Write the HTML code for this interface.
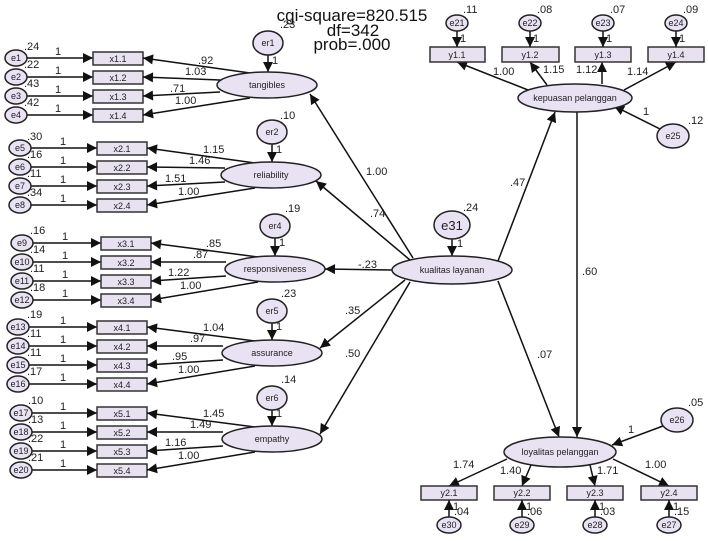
<!DOCTYPE html>
<html><head><meta charset="utf-8"><style>
html,body{margin:0;padding:0;background:#fff;}
svg{display:block;}
text{font-family:"Liberation Sans",sans-serif;fill:#222;}
.s{font-size:11px;}
.n{font-size:9px;}
.t{font-size:17px;fill:#111;}
.el{fill:#e8e2f2;stroke:#222;stroke-width:1.5;}
.bx{fill:#e8e2f0;stroke:#333;stroke-width:1.5;}
.ln{stroke:#111;stroke-width:1.5;fill:none;marker-end:url(#a);}
</style></head><body>
<svg width="708" height="541" viewBox="0 0 708 541" xmlns="http://www.w3.org/2000/svg">
<defs><marker id="a" viewBox="0 0 10 10" refX="10" refY="5" markerWidth="7" markerHeight="7" orient="auto" markerUnits="userSpaceOnUse"><path d="M0,0 L10,5 L0,10 z" fill="#111"/></marker>
<marker id="b" viewBox="0 0 10 10" refX="10" refY="5" markerWidth="12" markerHeight="10" orient="auto" markerUnits="userSpaceOnUse"><path d="M0,0 L10,5 L0,10 z" fill="#111"/></marker></defs>
<style>.ln{marker-end:url(#b);}</style>

<text class="t" x="352" y="21" text-anchor="middle">cgi-square=820.515</text>
<text class="t" x="353" y="36" text-anchor="middle">df=342</text>
<text class="t" x="352" y="50" text-anchor="middle">prob=.000</text>

<!-- Group 1 -->
<g>
<line class="ln" x1="27" y1="58" x2="93" y2="58"/><line class="ln" x1="27" y1="77" x2="93" y2="77"/><line class="ln" x1="27" y1="96" x2="93" y2="96"/><line class="ln" x1="27" y1="115" x2="93" y2="115"/>
<ellipse class="el" cx="16" cy="58" rx="11" ry="8"/><ellipse class="el" cx="16" cy="77" rx="11" ry="8"/><ellipse class="el" cx="16" cy="96" rx="11" ry="8"/><ellipse class="el" cx="16" cy="115" rx="11" ry="8"/>
<text class="n" x="16" y="61" text-anchor="middle">e1</text><text class="n" x="16" y="80" text-anchor="middle">e2</text><text class="n" x="16" y="99" text-anchor="middle">e3</text><text class="n" x="16" y="118" text-anchor="middle">e4</text>
<text class="s" x="24" y="50">.24</text><text class="s" x="24" y="68">.22</text><text class="s" x="24" y="87">.43</text><text class="s" x="24" y="106">.42</text>
<text class="s" x="55" y="55">1</text><text class="s" x="55" y="74">1</text><text class="s" x="55" y="93">1</text><text class="s" x="55" y="112">1</text>
<rect class="bx" x="93" y="52" width="50" height="13"/><rect class="bx" x="93" y="71" width="50" height="13"/><rect class="bx" x="93" y="90" width="50" height="13"/><rect class="bx" x="93" y="109" width="50" height="13"/>
<text class="n" x="118" y="62" text-anchor="middle">x1.1</text><text class="n" x="118" y="81" text-anchor="middle">x1.2</text><text class="n" x="118" y="100" text-anchor="middle">x1.3</text><text class="n" x="118" y="119" text-anchor="middle">x1.4</text>
<line class="ln" x1="250" y1="73" x2="143" y2="58"/><line class="ln" x1="220" y1="80" x2="143" y2="77"/><line class="ln" x1="220" y1="92" x2="143" y2="96"/><line class="ln" x1="250" y1="98" x2="143" y2="115"/>
<text class="s" x="198" y="64">.92</text><text class="s" x="185" y="75">1.03</text><text class="s" x="170" y="92">.71</text><text class="s" x="175" y="104">1.00</text>
<line class="ln" x1="268" y1="55" x2="268" y2="72"/>
<ellipse class="el" cx="268" cy="43" rx="15" ry="12"/><text class="n" x="268" y="46" text-anchor="middle">er1</text>
<text class="s" x="272" y="64">1</text><text class="s" x="280" y="28">.23</text>
<ellipse class="el" cx="267" cy="85" rx="50" ry="13"/><text class="n" x="267" y="88" text-anchor="middle">tangibles</text>
</g>

<!-- Group 2 -->
<g>
<line class="ln" x1="31" y1="148" x2="97" y2="148"/><line class="ln" x1="31" y1="167" x2="97" y2="167"/><line class="ln" x1="31" y1="186" x2="97" y2="186"/><line class="ln" x1="31" y1="205" x2="97" y2="205"/>
<ellipse class="el" cx="20" cy="148" rx="11" ry="8"/><ellipse class="el" cx="20" cy="167" rx="11" ry="8"/><ellipse class="el" cx="20" cy="186" rx="11" ry="8"/><ellipse class="el" cx="20" cy="205" rx="11" ry="8"/>
<text class="n" x="20" y="151" text-anchor="middle">e5</text><text class="n" x="20" y="170" text-anchor="middle">e6</text><text class="n" x="20" y="189" text-anchor="middle">e7</text><text class="n" x="20" y="208" text-anchor="middle">e8</text>
<text class="s" x="27" y="140">.30</text><text class="s" x="27" y="158">.16</text><text class="s" x="27" y="177">.11</text><text class="s" x="27" y="196">.34</text>
<text class="s" x="60" y="145">1</text><text class="s" x="60" y="164">1</text><text class="s" x="60" y="183">1</text><text class="s" x="60" y="202">1</text>
<rect class="bx" x="97" y="142" width="50" height="13"/><rect class="bx" x="97" y="161" width="50" height="13"/><rect class="bx" x="97" y="180" width="50" height="13"/><rect class="bx" x="97" y="199" width="50" height="13"/>
<text class="n" x="122" y="152" text-anchor="middle">x2.1</text><text class="n" x="122" y="171" text-anchor="middle">x2.2</text><text class="n" x="122" y="190" text-anchor="middle">x2.3</text><text class="n" x="122" y="209" text-anchor="middle">x2.4</text>
<line class="ln" x1="255" y1="163" x2="147" y2="148"/><line class="ln" x1="225" y1="168" x2="147" y2="167"/><line class="ln" x1="225" y1="182" x2="147" y2="186"/><line class="ln" x1="255" y1="188" x2="147" y2="205"/>
<text class="s" x="203" y="153">1.15</text><text class="s" x="189" y="164">1.46</text><text class="s" x="165" y="182">1.51</text><text class="s" x="178" y="195">1.00</text>
<line class="ln" x1="272" y1="144" x2="272" y2="162"/>
<ellipse class="el" cx="272" cy="132" rx="15" ry="12"/><text class="n" x="272" y="135" text-anchor="middle">er2</text>
<text class="s" x="276" y="153">1</text><text class="s" x="280" y="119">.10</text>
<ellipse class="el" cx="271" cy="175" rx="50" ry="13"/><text class="n" x="271" y="178" text-anchor="middle">reliability</text>
</g>

<!-- Group 3 -->
<g>
<line class="ln" x1="33" y1="243" x2="101" y2="243"/><line class="ln" x1="33" y1="262" x2="101" y2="262"/><line class="ln" x1="33" y1="281" x2="101" y2="281"/><line class="ln" x1="33" y1="300" x2="101" y2="300"/>
<ellipse class="el" cx="22" cy="243" rx="11" ry="8"/><ellipse class="el" cx="22" cy="262" rx="11" ry="8"/><ellipse class="el" cx="22" cy="281" rx="11" ry="8"/><ellipse class="el" cx="22" cy="300" rx="11" ry="8"/>
<text class="n" x="22" y="246" text-anchor="middle">e9</text><text class="n" x="22" y="265" text-anchor="middle">e10</text><text class="n" x="22" y="284" text-anchor="middle">e11</text><text class="n" x="22" y="303" text-anchor="middle">e12</text>
<text class="s" x="30" y="234">.16</text><text class="s" x="30" y="253">.14</text><text class="s" x="30" y="272">.11</text><text class="s" x="30" y="291">.18</text>
<text class="s" x="62" y="240">1</text><text class="s" x="62" y="259">1</text><text class="s" x="62" y="278">1</text><text class="s" x="62" y="297">1</text>
<rect class="bx" x="101" y="237" width="50" height="13"/><rect class="bx" x="101" y="256" width="50" height="13"/><rect class="bx" x="101" y="275" width="50" height="13"/><rect class="bx" x="101" y="294" width="50" height="13"/>
<text class="n" x="126" y="247" text-anchor="middle">x3.1</text><text class="n" x="126" y="266" text-anchor="middle">x3.2</text><text class="n" x="126" y="285" text-anchor="middle">x3.3</text><text class="n" x="126" y="304" text-anchor="middle">x3.4</text>
<line class="ln" x1="258" y1="257" x2="151" y2="243"/><line class="ln" x1="226" y1="262" x2="151" y2="262"/><line class="ln" x1="226" y1="276" x2="151" y2="281"/><line class="ln" x1="258" y1="282" x2="151" y2="300"/>
<text class="s" x="206" y="247">.85</text><text class="s" x="193" y="258">.87</text><text class="s" x="168" y="276">1.22</text><text class="s" x="180" y="289">1.00</text>
<line class="ln" x1="275" y1="238" x2="275" y2="256"/>
<ellipse class="el" cx="275" cy="226" rx="15" ry="12"/><text class="n" x="275" y="229" text-anchor="middle">er4</text>
<text class="s" x="279" y="246">1</text><text class="s" x="285" y="212">.19</text>
<ellipse class="el" cx="275" cy="269" rx="50" ry="13"/><text class="n" x="275" y="272" text-anchor="middle">responsiveness</text>
</g>

<!-- Group 4 -->
<g>
<line class="ln" x1="28" y1="327" x2="97" y2="327"/><line class="ln" x1="28" y1="346" x2="97" y2="346"/><line class="ln" x1="28" y1="365" x2="97" y2="365"/><line class="ln" x1="28" y1="384" x2="97" y2="384"/>
<ellipse class="el" cx="18" cy="327" rx="11" ry="8"/><ellipse class="el" cx="18" cy="346" rx="11" ry="8"/><ellipse class="el" cx="18" cy="365" rx="11" ry="8"/><ellipse class="el" cx="18" cy="384" rx="11" ry="8"/>
<text class="n" x="18" y="330" text-anchor="middle">e13</text><text class="n" x="18" y="349" text-anchor="middle">e14</text><text class="n" x="18" y="368" text-anchor="middle">e15</text><text class="n" x="18" y="387" text-anchor="middle">e16</text>
<text class="s" x="27" y="318">.19</text><text class="s" x="27" y="337">.11</text><text class="s" x="27" y="356">.11</text><text class="s" x="27" y="375">.17</text>
<text class="s" x="60" y="324">1</text><text class="s" x="60" y="343">1</text><text class="s" x="60" y="362">1</text><text class="s" x="60" y="381">1</text>
<rect class="bx" x="97" y="321" width="50" height="13"/><rect class="bx" x="97" y="340" width="50" height="13"/><rect class="bx" x="97" y="359" width="50" height="13"/><rect class="bx" x="97" y="378" width="50" height="13"/>
<text class="n" x="122" y="331" text-anchor="middle">x4.1</text><text class="n" x="122" y="350" text-anchor="middle">x4.2</text><text class="n" x="122" y="369" text-anchor="middle">x4.3</text><text class="n" x="122" y="388" text-anchor="middle">x4.4</text>
<line class="ln" x1="255" y1="341" x2="147" y2="327"/><line class="ln" x1="223" y1="346" x2="147" y2="346"/><line class="ln" x1="223" y1="360" x2="147" y2="365"/><line class="ln" x1="255" y1="366" x2="147" y2="384"/>
<text class="s" x="203" y="331">1.04</text><text class="s" x="190" y="342">.97</text><text class="s" x="172" y="360">.95</text><text class="s" x="178" y="373">1.00</text>
<line class="ln" x1="272" y1="323" x2="272" y2="340"/>
<ellipse class="el" cx="272" cy="311" rx="15" ry="12"/><text class="n" x="272" y="314" text-anchor="middle">er5</text>
<text class="s" x="276" y="330">1</text><text class="s" x="281" y="297">.23</text>
<ellipse class="el" cx="272" cy="353" rx="50" ry="13"/><text class="n" x="272" y="356" text-anchor="middle">assurance</text>
</g>

<!-- Group 5 -->
<g>
<line class="ln" x1="32" y1="413" x2="97" y2="413"/><line class="ln" x1="32" y1="432" x2="97" y2="432"/><line class="ln" x1="32" y1="451" x2="97" y2="451"/><line class="ln" x1="32" y1="470" x2="97" y2="470"/>
<ellipse class="el" cx="21" cy="413" rx="11" ry="8"/><ellipse class="el" cx="21" cy="432" rx="11" ry="8"/><ellipse class="el" cx="21" cy="451" rx="11" ry="8"/><ellipse class="el" cx="21" cy="470" rx="11" ry="8"/>
<text class="n" x="21" y="416" text-anchor="middle">e17</text><text class="n" x="21" y="435" text-anchor="middle">e18</text><text class="n" x="21" y="454" text-anchor="middle">e19</text><text class="n" x="21" y="473" text-anchor="middle">e20</text>
<text class="s" x="28" y="404">.10</text><text class="s" x="28" y="423">.13</text><text class="s" x="28" y="442">.22</text><text class="s" x="28" y="461">.21</text>
<text class="s" x="60" y="410">1</text><text class="s" x="60" y="429">1</text><text class="s" x="60" y="448">1</text><text class="s" x="60" y="467">1</text>
<rect class="bx" x="97" y="407" width="50" height="13"/><rect class="bx" x="97" y="426" width="50" height="13"/><rect class="bx" x="97" y="445" width="50" height="13"/><rect class="bx" x="97" y="464" width="50" height="13"/>
<text class="n" x="122" y="417" text-anchor="middle">x5.1</text><text class="n" x="122" y="436" text-anchor="middle">x5.2</text><text class="n" x="122" y="455" text-anchor="middle">x5.3</text><text class="n" x="122" y="474" text-anchor="middle">x5.4</text>
<line class="ln" x1="255" y1="427" x2="147" y2="413"/><line class="ln" x1="223" y1="432" x2="147" y2="432"/><line class="ln" x1="223" y1="446" x2="147" y2="451"/><line class="ln" x1="255" y1="452" x2="147" y2="470"/>
<text class="s" x="203" y="417">1.45</text><text class="s" x="190" y="428">1.49</text><text class="s" x="165" y="446">1.16</text><text class="s" x="178" y="459">1.00</text>
<line class="ln" x1="272" y1="410" x2="272" y2="426"/>
<ellipse class="el" cx="272" cy="398" rx="15" ry="12"/><text class="n" x="272" y="401" text-anchor="middle">er6</text>
<text class="s" x="276" y="417">1</text><text class="s" x="281" y="383">.14</text>
<ellipse class="el" cx="272" cy="439" rx="50" ry="13"/><text class="n" x="272" y="442" text-anchor="middle">empathy</text>
</g>

<!-- structural paths -->
<line class="ln" x1="413" y1="258" x2="310" y2="94"/>
<line class="ln" x1="410" y1="260" x2="316" y2="181"/>
<line class="ln" x1="392" y1="270" x2="325" y2="269"/>
<line class="ln" x1="405" y1="280" x2="320" y2="348"/>
<line class="ln" x1="410" y1="282" x2="320" y2="434"/>
<line class="ln" x1="498" y1="261" x2="555" y2="112"/>
<line class="ln" x1="498" y1="281" x2="559" y2="437"/>
<line class="ln" x1="577" y1="112" x2="577" y2="437"/>
<text class="s" x="366" y="175">1.00</text><text class="s" x="370" y="217">.74</text><text class="s" x="358" y="268">-.23</text>
<text class="s" x="345" y="314">.35</text><text class="s" x="345" y="357">.50</text>
<text class="s" x="510" y="186">.47</text><text class="s" x="537" y="358">.07</text><text class="s" x="582" y="275">.60</text>

<line class="ln" x1="452" y1="239" x2="452" y2="256"/>
<ellipse class="el" cx="452" cy="225" rx="18" ry="14"/><text x="452" y="230" text-anchor="middle" style="font-size:13px">e31</text>
<text class="s" x="457" y="247">1</text><text class="s" x="463" y="211">.24</text>
<ellipse class="el" cx="452" cy="270" rx="60" ry="14"/><text class="n" x="452" y="273" text-anchor="middle">kualitas layanan</text>

<!-- kepuasan -->
<line class="ln" x1="528" y1="90" x2="457" y2="62"/><line class="ln" x1="547" y1="85" x2="530" y2="62"/><line class="ln" x1="602" y1="84" x2="602" y2="62"/><line class="ln" x1="624" y1="90" x2="676" y2="62"/>
<text class="s" x="493" y="75">1.00</text><text class="s" x="543" y="73">1.15</text><text class="s" x="576" y="73">1.12</text><text class="s" x="627" y="75">1.14</text>
<rect class="bx" x="430" y="47" width="55" height="15"/><rect class="bx" x="502" y="47" width="57" height="15"/><rect class="bx" x="575" y="47" width="56" height="15"/><rect class="bx" x="648" y="47" width="56" height="15"/>
<text class="n" x="457" y="58" text-anchor="middle">y1.1</text><text class="n" x="530" y="58" text-anchor="middle">y1.2</text><text class="n" x="603" y="58" text-anchor="middle">y1.3</text><text class="n" x="676" y="58" text-anchor="middle">y1.4</text>
<line class="ln" x1="457" y1="31" x2="457" y2="47"/><line class="ln" x1="530" y1="31" x2="530" y2="47"/><line class="ln" x1="603" y1="31" x2="603" y2="47"/><line class="ln" x1="676" y1="31" x2="676" y2="47"/>
<ellipse class="el" cx="457" cy="23" rx="11" ry="8"/><ellipse class="el" cx="530" cy="23" rx="11" ry="8"/><ellipse class="el" cx="603" cy="23" rx="11" ry="8"/><ellipse class="el" cx="676" cy="23" rx="11" ry="8"/>
<text class="n" x="457" y="26" text-anchor="middle">e21</text><text class="n" x="530" y="26" text-anchor="middle">e22</text><text class="n" x="603" y="26" text-anchor="middle">e23</text><text class="n" x="676" y="26" text-anchor="middle">e24</text>
<text class="s" x="463" y="13">.11</text><text class="s" x="537" y="13">.08</text><text class="s" x="610" y="13">.07</text><text class="s" x="683" y="13">.09</text>
<text class="s" x="460" y="42">1</text><text class="s" x="533" y="42">1</text><text class="s" x="606" y="42">1</text><text class="s" x="679" y="42">1</text>
<line class="ln" x1="662" y1="130" x2="614" y2="106"/>
<ellipse class="el" cx="673" cy="136" rx="16" ry="12"/><text class="n" x="673" y="139" text-anchor="middle">e25</text>
<text class="s" x="643" y="115">1</text><text class="s" x="688" y="124">.12</text>
<ellipse class="el" cx="575" cy="98" rx="57" ry="14"/><text class="n" x="575" y="101" text-anchor="middle">kepuasan pelanggan</text>

<!-- loyalitas -->
<line class="ln" x1="507" y1="459" x2="449" y2="486"/><line class="ln" x1="531" y1="465" x2="522" y2="486"/><line class="ln" x1="590" y1="465" x2="595" y2="486"/><line class="ln" x1="613" y1="459" x2="669" y2="486"/>
<text class="s" x="453" y="468">1.74</text><text class="s" x="500" y="474">1.40</text><text class="s" x="597" y="474">1.71</text><text class="s" x="645" y="468">1.00</text>
<rect class="bx" x="421" y="486" width="56" height="14"/><rect class="bx" x="494" y="486" width="56" height="14"/><rect class="bx" x="567" y="486" width="56" height="14"/><rect class="bx" x="641" y="486" width="56" height="14"/>
<text class="n" x="449" y="496" text-anchor="middle">y2.1</text><text class="n" x="522" y="496" text-anchor="middle">y2.2</text><text class="n" x="595" y="496" text-anchor="middle">y2.3</text><text class="n" x="669" y="496" text-anchor="middle">y2.4</text>
<line class="ln" x1="449" y1="517" x2="449" y2="500"/><line class="ln" x1="522" y1="517" x2="522" y2="500"/><line class="ln" x1="595" y1="517" x2="595" y2="500"/><line class="ln" x1="669" y1="517" x2="669" y2="500"/>
<ellipse class="el" cx="449" cy="525" rx="12" ry="8"/><ellipse class="el" cx="522" cy="525" rx="12" ry="8"/><ellipse class="el" cx="595" cy="525" rx="12" ry="8"/><ellipse class="el" cx="669" cy="525" rx="12" ry="8"/>
<text class="n" x="449" y="528" text-anchor="middle">e30</text><text class="n" x="522" y="528" text-anchor="middle">e29</text><text class="n" x="595" y="528" text-anchor="middle">e28</text><text class="n" x="669" y="528" text-anchor="middle">e27</text>
<text class="s" x="453" y="510">1</text><text class="s" x="526" y="510">1</text><text class="s" x="599" y="510">1</text><text class="s" x="673" y="510">1</text>
<text class="s" x="454" y="515">.04</text><text class="s" x="527" y="515">.06</text><text class="s" x="600" y="515">.03</text><text class="s" x="674" y="515">.15</text>
<line class="ln" x1="663" y1="426" x2="612" y2="445"/>
<ellipse class="el" cx="677" cy="420" rx="16" ry="12"/><text class="n" x="677" y="423" text-anchor="middle">e26</text>
<text class="s" x="628" y="433">1</text><text class="s" x="688" y="406">.05</text>
<ellipse class="el" cx="560" cy="452" rx="56" ry="15"/><text class="n" x="560" y="455" text-anchor="middle">loyalitas pelanggan</text>
</svg>
</body></html>
